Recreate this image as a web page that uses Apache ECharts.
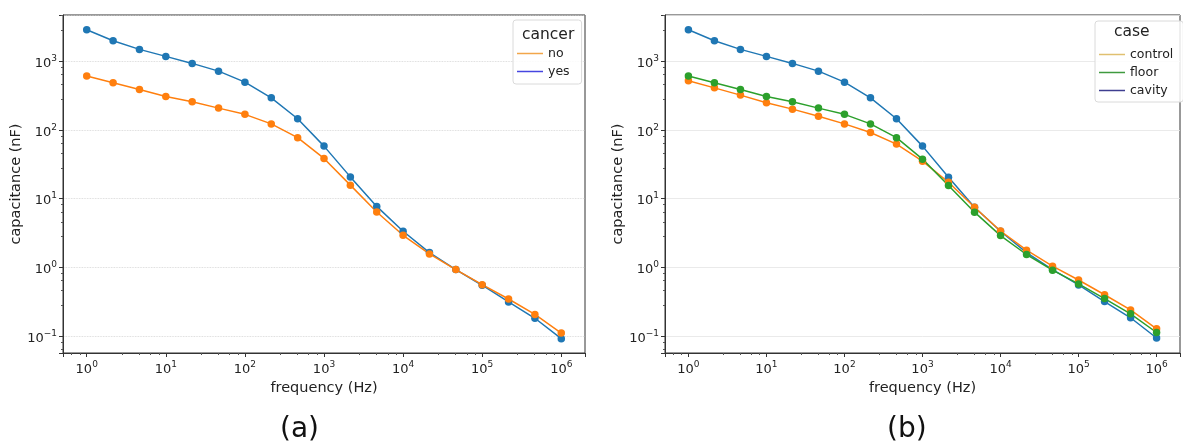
<!DOCTYPE html>
<html>
<head>
<meta charset="utf-8">
<script src="https://cdn.jsdelivr.net/npm/echarts@6/dist/echarts.min.js"></script>
<style>
html,body{margin:0;padding:0;background:#fff;}
#c{width:1183px;height:446px;}
</style>
</head>
<body>
<div id="c"></div>
<script>
// ---- data ----
const frequency = [1, 2.154, 4.642, 10, 21.54, 46.42, 100, 215.4, 464.2, 1000, 2154, 4642, 10000, 21544, 46416, 100000, 215443, 464159, 1000000];
// panel (a): cancer
const cancerNo  = [605, 483, 387, 306, 256, 207, 168, 122, 77, 38.4, 15.7, 6.4, 2.93, 1.57, 0.93, 0.56, 0.347, 0.207, 0.111];
const cancerYes = [2856, 1974, 1479, 1170, 925, 714, 494, 292, 145, 58, 20.7, 7.7, 3.35, 1.64, 0.93, 0.55, 0.314, 0.182, 0.092];
// panel (b): case
const caseControl = [517, 408, 320, 247, 200, 158, 122, 91.6, 62, 35, 17.3, 7.5, 3.38, 1.78, 1.04, 0.655, 0.40, 0.241, 0.128];
const caseFloor   = [605, 483, 387, 306, 256, 207, 168, 122, 77, 37.5, 15.5, 6.35, 2.9, 1.54, 0.91, 0.574, 0.352, 0.211, 0.113];
const caseCavity  = [2856, 1974, 1479, 1170, 925, 714, 494, 292, 145, 58, 20.4, 7.5, 3.35, 1.64, 0.93, 0.555, 0.318, 0.185, 0.094];
const legendA = ['no', 'yes'];
const legendB = ['control', 'floor', 'cavity'];
const xName = 'frequency (Hz)';
const yName = 'capacitance (nF)';

const FONT = 'DejaVu Sans';
const pair = (xs, ys) => xs.map((x, i) => [x, ys[i]]);

function powLabel(v) {
  const l = Math.log10(v);
  const e = Math.round(l);
  if (Math.abs(l - e) > 1e-6) return '';
  return '{b|10}{s|' + (e < 0 ? '\u2212' + (-e) : e) + '}';
}
const labelRich = {
  b: {fontSize: 13, fontFamily: FONT, color: '#222', padding: [5, 0, 0, 0]},
  s: {fontSize: 9, fontFamily: FONT, color: '#222', padding: [0, 0, 5, 0]}
};

function xAxis(gi) {
  return {
    type: 'log', gridIndex: gi, logBase: 10,
    min: Math.pow(10, -0.3), max: Math.pow(10, 6.3),
    name: xName, nameLocation: 'middle', nameGap: 20,
    nameTextStyle: {fontSize: 14.5, fontFamily: FONT, color: '#222'},
    axisLine: {show: true, lineStyle: {color: '#333', width: 1}},
    axisTick: {show: true, length: 4, lineStyle: {color: '#333'}},
    minorTick: {show: true, length: 2, lineStyle: {color: '#555'}},
    splitLine: {show: false},
    axisLabel: {formatter: powLabel, rich: labelRich, margin: 5, showMinLabel: true, showMaxLabel: true}
  };
}
function yAxis(gi, dotted) {
  return {
    type: 'log', gridIndex: gi, logBase: 10,
    min: Math.pow(10, -1.245), max: Math.pow(10, 3.67),
    name: yName, nameLocation: 'middle', nameGap: 37, nameRotate: 90,
    nameTextStyle: {fontSize: 14.5, fontFamily: FONT, color: '#222'},
    axisLine: {show: true, lineStyle: {color: '#333', width: 1}},
    axisTick: {show: true, length: 4, lineStyle: {color: '#333'}},
    minorTick: {show: true, length: 2, lineStyle: {color: '#555'}},
    splitLine: {show: true, lineStyle: {color: dotted ? '#d0d0d0' : '#e4e4e4', width: 0.8, type: dotted ? 'dotted' : 'solid'}},
    axisLabel: {formatter: powLabel, rich: labelRich, margin: 6}
  };
}
function lineSeries(name, data, color, xi) {
  return {
    type: 'line', name: name, xAxisIndex: xi, yAxisIndex: xi,
    data: pair(frequency, data),
    symbol: 'circle', symbolSize: 7.5,
    lineStyle: {color: color, width: 1.5},
    itemStyle: {color: color},
    emphasis: {disabled: true},
    animation: false
  };
}
const legendBase = {
  orient: 'vertical', icon: 'rect', itemWidth: 26, itemHeight: 1.5, itemGap: 5,
  borderColor: '#dadada', borderWidth: 1, borderRadius: 3,
  backgroundColor: 'rgba(255,255,255,0.85)',
  textStyle: {fontSize: 12.5, fontFamily: FONT, color: '#222'},
  selectedMode: false
};

const chart = echarts.init(document.getElementById('c'), null, {renderer: 'canvas'});
chart.setOption({
  animation: false,
  textStyle: {fontFamily: FONT},
  grid: [
    {left: 63, top: 15, width: 522, height: 338, show: true, borderColor: '#333', borderWidth: 1, backgroundColor: 'transparent'},
    {left: 665, top: 15, width: 524, height: 338, show: true, borderColor: '#333', borderWidth: 1, backgroundColor: 'transparent'}
  ],
  xAxis: [xAxis(0), xAxis(1)],
  yAxis: [yAxis(0, true), yAxis(1, false)],
  legend: [
    Object.assign({}, legendBase, {
      left: 513, top: 20, padding: [27, 12, 6, 4],
      data: [
        {name: legendA[0], itemStyle: {color: '#f2a64a'}},
        {name: legendA[1], itemStyle: {color: '#4646e0'}}
      ]
    }),
    Object.assign({}, legendBase, {
      left: 1095, top: 21, padding: [27, 10, 5, 4],
      data: [
        {name: legendB[0], itemStyle: {color: '#e0c070'}},
        {name: legendB[1], itemStyle: {color: '#3f9a3f'}},
        {name: legendB[2], itemStyle: {color: '#3e3e90'}}
      ]
    })
  ],
  graphic: [
    {type: 'text', left: 548 - 26, top: 27, style: {text: 'cancer', font: '15.5px "DejaVu Sans"', fill: '#222'}, z: 100},
    {type: 'text', left: 1131 - 17, top: 24, style: {text: 'case', font: '15.5px "DejaVu Sans"', fill: '#222'}, z: 100},
    {type: 'text', left: 280, top: 416, style: {text: '(a)', font: '28px "DejaVu Sans"', fill: '#111'}},
    {type: 'text', left: 887, top: 416, style: {text: '(b)', font: '28px "DejaVu Sans"', fill: '#111'}}
  ],
  series: [
    lineSeries(legendA[1], cancerYes, '#1f77b4', 0),
    lineSeries(legendA[0], cancerNo, '#ff7f0e', 0),
    lineSeries(legendB[2], caseCavity, '#1f77b4', 1),
    lineSeries(legendB[0], caseControl, '#ff7f0e', 1),
    lineSeries(legendB[1], caseFloor, '#2ca02c', 1)
  ]
});
</script>
</body>
</html>
